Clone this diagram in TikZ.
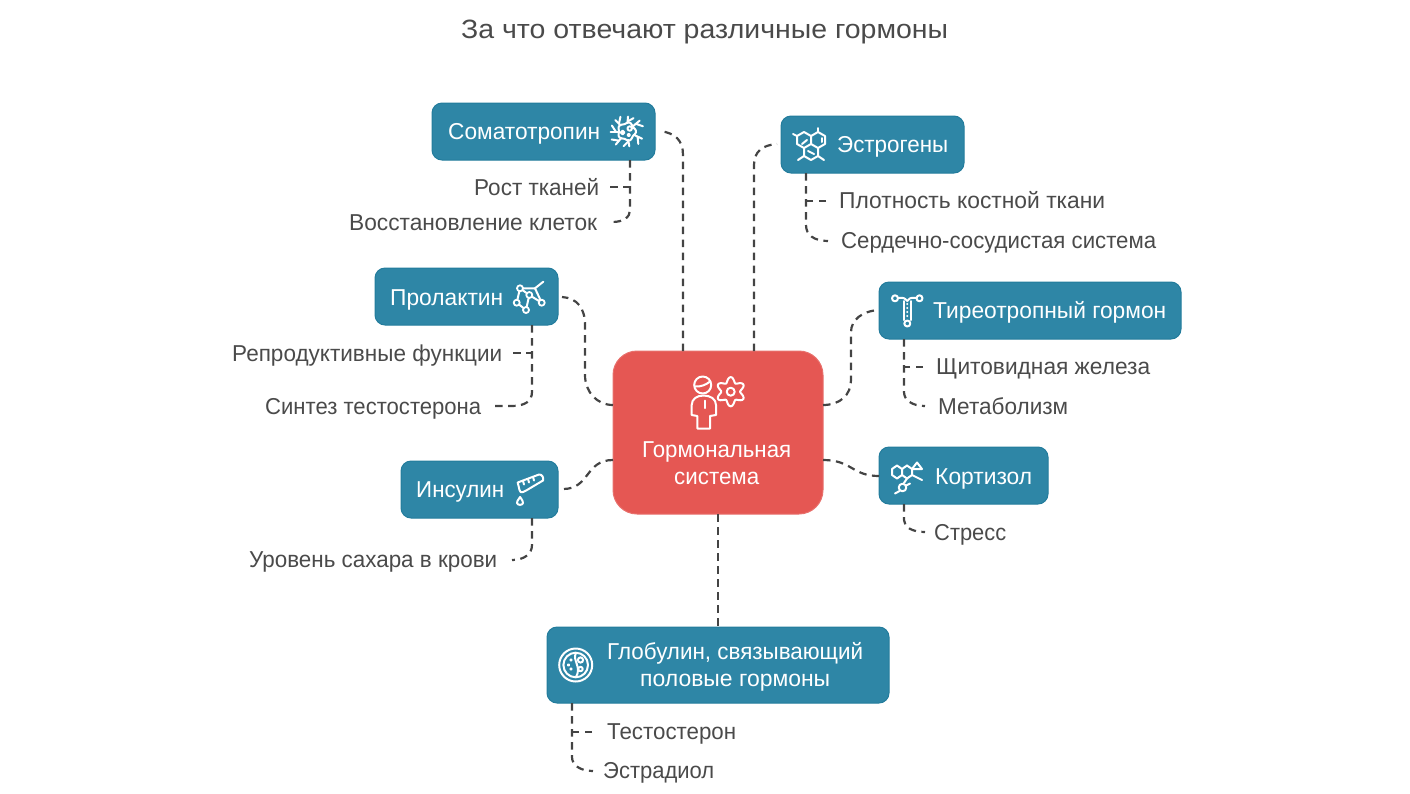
\documentclass[tikz,border=0pt]{standalone}
\usepackage{fontspec}
\usepackage{graphicx}
\setmainfont{Liberation Sans}
\definecolor{teal1}{HTML}{2E86A6}
\definecolor{teal2}{HTML}{237C9C}
\definecolor{red1}{HTML}{E55753}
\definecolor{red2}{HTML}{E8706C}
\definecolor{txt}{HTML}{4A4A4A}
\definecolor{dash1}{HTML}{444444}
\newcommand{\fitw}[2]{\resizebox{#1pt}{\height}{#2}}
\tikzset{
  box/.style={draw=teal2,fill=teal1,line width=1pt,rounded corners=10pt},
  hub/.style={draw=red2,fill=red1,line width=1pt,rounded corners=24pt},
  conn/.style={draw=dash1,line width=2.2pt,dash pattern=on 7.5pt off 5.5pt},
  wt/.style={text=white,font=\fontsize{23}{26}\selectfont,inner sep=0pt,anchor=base west},
  gt/.style={text=txt,font=\fontsize{23}{26}\selectfont,inner sep=0pt,anchor=base west},
  ttl/.style={text=txt,font=\fontsize{26.5}{30}\selectfont,inner sep=0pt,anchor=base west},
  ico/.style={draw=white,line width=2pt,line cap=round,line join=round},
  dot/.style={draw=white,fill=teal1,line width=1.8pt}
}
\begin{document}
\begin{tikzpicture}[x=1pt,y=-1pt]
\useasboundingbox (0,0) rectangle (1410,793);
% boxes
\path[box] (432,103) rectangle (655,160);
\path[box] (781,116) rectangle (964,173);
\path[box] (375,268) rectangle (558,325);
\path[box] (879,282) rectangle (1181,339);
\path[box] (879,447) rectangle (1048,504);
\path[box] (401,461) rectangle (558,518);
\path[box] (547,627) rectangle (889,703);
\path[hub] (613,351) rectangle (823,514);
% anchors
\coordinate (hubT1) at (683,351);
\coordinate (hubT2) at (754,351);
\coordinate (hubL1) at (613,405);
\coordinate (hubL2) at (613,460);
\coordinate (hubR1) at (823,405);
\coordinate (hubR2) at (823,460);
\coordinate (hubB) at (718,514);
\coordinate (somaR) at (660,131);
\coordinate (estL) at (777,144);
\coordinate (prolR) at (562,297);
\coordinate (tirL) at (879,310);
\coordinate (kortL) at (879,476);
\coordinate (insR) at (563,489);
\coordinate (globT) at (718,627);
\coordinate (somaB) at (630,160);
\coordinate (estB) at (806,173);
\coordinate (prolB) at (532,325);
\coordinate (tirB) at (904,339);
\coordinate (kortB) at (904,504);
\coordinate (insB) at (532,518);
\coordinate (globB) at (572,703);
\coordinate (c1) at (610,187);
\coordinate (c2) at (612,222);
\coordinate (c3) at (826,201);
\coordinate (c4) at (828,241);
\coordinate (c5) at (513,353);
\coordinate (c6) at (494,406);
\coordinate (c7) at (923,367);
\coordinate (c8) at (925,406);
\coordinate (c9) at (925,532);
\coordinate (c10) at (512,560);
\coordinate (c11) at (592,732);
\coordinate (c12) at (593,771);
% connectors
\draw[conn] (hubT1) -- (683,155) .. controls (683,140) and (675,133) .. (somaR);
\draw[conn] (hubT2) -- (754,165) .. controls (754,152) and (762,145) .. (estL);
\draw[conn] (hubL1) .. controls (597,405) and (585,392) .. (585,375) -- (585,325) .. controls (585,308) and (577,298) .. (prolR);
\draw[conn] (hubR1) .. controls (840,405) and (851,395) .. (851,380) -- (851,332) .. controls (851,320) and (862,311) .. (tirL);
\draw[conn] (hubR2) .. controls (852,460) and (852,476) .. (kortL);
\draw[conn] (hubL2) .. controls (585,460) and (590,489) .. (insR);
\draw[conn] (hubB) -- (globT);
\draw[conn] (c1) -- (630,187);
\draw[conn] (somaB) -- (630,210) .. controls (630,217) and (624,222) .. (c2);
\draw[conn] (c3) -- (806,201);
\draw[conn] (estB) -- (806,225) .. controls (806,235) and (814,241) .. (c4);
\draw[conn] (c5) -- (532,353);
\draw[conn] (prolB) -- (532,392) .. controls (532,401) and (525,406) .. (512,406) -- (c6);
\draw[conn] (c7) -- (904,367);
\draw[conn] (tirB) -- (904,392) .. controls (904,400) and (912,406) .. (c8);
\draw[conn] (kortB) -- (904,520) .. controls (904,527) and (912,532) .. (c9);
\draw[conn] (insB) -- (532,545) .. controls (532,554) and (524,560) .. (c10);
\draw[conn] (c11) -- (572,732);
\draw[conn] (globB) -- (572,757) .. controls (572,765) and (580,771) .. (c12);
% texts
\node[ttl] (title) at (461,38) {\fitw{487}{За что отвечают различные гормоны}};
\node[wt] (tsoma) at (448,139) {\fitw{152}{Соматотропин}};
\node[gt] (t1) at (474,195.5) {\fitw{125}{Рост тканей}};
\node[gt] (t2) at (349,230.5) {\fitw{248}{Восстановление клеток}};
\node[wt] (test) at (837,152) {\fitw{111}{Эстрогены}};
\node[gt] (t3) at (839,208.5) {\fitw{266}{Плотность костной ткани}};
\node[gt] (t4) at (841,248.5) {\fitw{315}{Сердечно-сосудистая система}};
\node[wt] (tprol) at (390,305) {\fitw{113}{Пролактин}};
\node[gt] (t5) at (232,361.5) {\fitw{270}{Репродуктивные функции}};
\node[gt] (t6) at (265,414.5) {\fitw{216}{Синтез тестостерона}};
\node[wt] (ttir) at (933,318.5) {\fitw{233}{Тиреотропный гормон}};
\node[gt] (t7) at (936,374.5) {\fitw{214}{Щитовидная железа}};
\node[gt] (t8) at (938,414.5) {\fitw{130}{Метаболизм}};
\node[wt] (tkort) at (935,484) {\fitw{97}{Кортизол}};
\node[gt] (t9) at (934,540.5) {\fitw{72}{Стресс}};
\node[wt] (tins) at (416,497) {\fitw{88}{Инсулин}};
\node[gt] (t10) at (249,567.5) {\fitw{248}{Уровень сахара в крови}};
\node[wt] (tg1) at (607,659.5) {\fitw{256}{Глобулин, связывающий}};
\node[wt] (tg2) at (640,686.5) {\fitw{190}{половые гормоны}};
\node[gt] (t11) at (607,739.5) {\fitw{129}{Тестостерон}};
\node[gt] (t12) at (603,778.5) {\fitw{111}{Эстрадиол}};
\node[wt] (th1) at (642,457.5) {\fitw{149}{Гормональная}};
\node[wt] (th2) at (674,484.5) {\fitw{85}{система}};
% hub icon
\begin{scope}[ico]
\draw (702.7,385) circle (8.5);
\draw (695,386.5) .. controls (700,387) and (706,385) .. (710,381.5);
\draw (697.3,428.5) -- (697.3,416) -- (691.7,415) -- (691.7,405) .. controls (691.7,399) and (697,395.5) .. (703.5,395.5) .. controls (710.5,395.5) and (716,399) .. (716,405) -- (716,415) -- (710,416) -- (710,428.5) -- cycle;
\draw (704.7,400.5) -- (704.7,408);
\draw plot[domain=0:360,samples=73,smooth] ({730.7+(12+2.6*cos(6*(\x+30)))*cos(\x)},{391.7+(12+2.6*cos(6*(\x+30)))*sin(\x)}) -- cycle;
\draw (730.7,391.7) circle (4);
\end{scope}
% soma icon
\begin{scope}[ico,shift={(626.7,131.5)}]
\draw plot[domain=0:360,samples=61,smooth] ({(8.5+0.8*cos(5*\x))*cos(\x)},{(8.5+0.8*cos(5*\x))*sin(\x)}) -- cycle;
\draw (3,-3) circle (2.2);
\draw (-4,1) circle (1.8);
\draw (2,3.5) circle (1.2);
\foreach \a/\r in {25/17,80/15,130/17,180/16,225/16,275/15,320/17}{
  \draw (\a:8.5) -- (\a:\r);
  \draw (\a:{\r-5}) -- ({\a+22}:\r);
}
\end{scope}
% estrogen icon
\begin{scope}[ico]
\draw (797,136) -- (804,132) -- (811,136) -- (811,144) -- (804,148) -- (797,144) -- cycle;
\draw (811,136) -- (818,132) -- (825,136) -- (825,144) -- (818,148) -- (811,144);
\draw (804,148) -- (804,156) -- (811,160) -- (818,156) -- (818,148);
\draw (797,136) -- (793,134);
\draw (818,132) -- (818,128);
\draw (804,156) -- (798,160);
\draw (818,156) -- (824,160);
\draw (802,144) -- (807,140);
\draw (808,151) -- (814,154);
\draw (822,138) -- (822,142);
\end{scope}
% prolactin icon
\begin{scope}[ico]
\draw (520,288.3) -- (535,288.3) -- (543.3,281.7);
\draw (535,288.3) -- (541.7,302.7) -- (529.3,295) -- (526,310) -- (516.7,302.7) -- (520,288.3) -- (529.3,295);
\foreach \p in {(520,288.3),(529.3,295),(516.7,302.7),(526,310),(541.7,302.7)}
  \draw[dot] \p circle (3);
\end{scope}
% tireo icon
\begin{scope}[ico]
\draw (898,298) .. controls (904,297) and (906,299) .. (907.3,301);
\draw (916.5,298) .. controls (910,297) and (908.5,299) .. (907.3,301);
\draw (895,298.3) circle (3);
\draw (919.5,298.3) circle (3);
\draw (904,301) -- (904,320);
\draw (910.7,301) -- (910.7,320);
\foreach \y in {304,308,312,316}
  \fill[white] (907.3,\y) circle (1.1);
\draw (907.3,323.5) circle (3);
\end{scope}
% kortizol icon
\begin{scope}[ico]
\draw (897,465.5) -- (902,469) -- (902,475) -- (897,478.5) -- (892,475) -- (892,469) -- cycle;
\draw (907,465.5) -- (912,469) -- (912,475) -- (907,478.5) -- (902,475);
\draw (907,465.5) -- (902,469);
\draw (912,469) -- (917,462.5) -- (922,469) -- cycle;
\draw (912,475) -- (922,480);
\draw (907,478.5) -- (904,483);
\draw (902.5,487.5) circle (3.8);
\draw (899.5,491) -- (895,493.5);
\draw (906,485.5) -- (910,483.5);
\end{scope}
% insulin icon
\begin{scope}[ico]
\draw (517.7,482.5) -- (539,474.5) .. controls (542,474) and (544,478) .. (543,480.5) -- (527,490) -- (523,492) .. controls (521,493) and (520,492) .. (519.5,490) -- cycle;
\draw (523,481) -- (524,484.5);
\draw (528,479) -- (529,482.5);
\draw (533,477) -- (534,480.5);
\draw (520.1,497) .. controls (518,500) and (516.5,502) .. (517,503) .. controls (517.5,505.5) and (522.5,505.5) .. (523,503) .. controls (523.5,502) and (522,500) .. (520.1,497) -- cycle;
\end{scope}
% globulin icon
\begin{scope}[ico]
\draw (575.7,665) circle (16.5);
\draw (575.7,665) circle (12.3);
\draw (576,653) .. controls (572,660) and (582,667) .. (576,677);
\draw (580.5,660) circle (2.6);
\draw (580.5,669) circle (2.2);
\draw (571,660) circle (0.7);
\draw (568.5,665) circle (0.7);
\draw (571,669) circle (0.7);
\end{scope}
\end{tikzpicture}
\end{document}
